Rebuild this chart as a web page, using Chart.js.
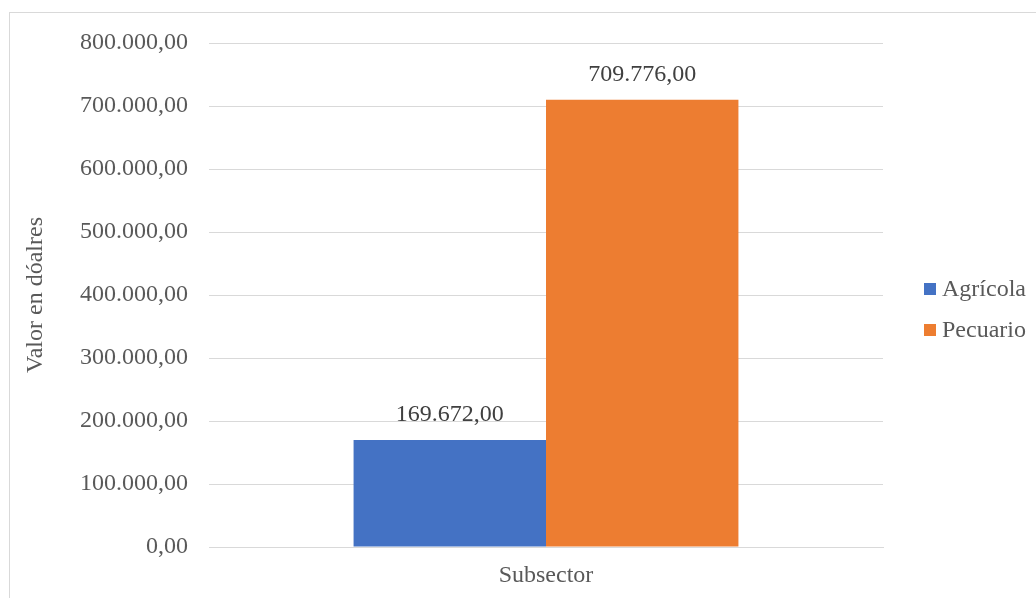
<!DOCTYPE html>
<html>
<head>
  <meta charset="UTF-8">
  <title>Valor por subsector</title>
  <script src="https://cdn.jsdelivr.net/npm/chart.js"></script>
  <style>
    html, body { margin: 0; padding: 0; overflow: hidden; background: #fff; }
    #frame { position: absolute; left: 9px; top: 12px; width: 1100px; height: 700px; border: 1px solid #d9d9d9; }
    #chart { position: absolute; left: 0; top: 0; }
  </style>
</head>
<body>
  <div id="frame"></div>
  <canvas id="chart" width="1036" height="598"></canvas>
  <script>
    const categories = ['Subsector'];
    const seriesNames = ['Agrícola', 'Pecuario'];
    const agricola = [169672];
    const pecuario = [709776];
    const colors = ['#4472C4', '#ED7D31'];
    const yTicks = [0, 100000, 200000, 300000, 400000, 500000, 600000, 700000, 800000];

    const FONT = '"Liberation Serif", "Times New Roman", serif';

    function fmt(v) {
      const parts = Number(v).toFixed(2).split('.');
      return parts[0].replace(/\B(?=(\d{3})+(?!\d))/g, '.') + ',' + parts[1];
    }

    // value labels above the bars
    const valueLabels = {
      id: 'valueLabels',
      afterDatasetsDraw(chart) {
        const ctx = chart.ctx;
        ctx.save();
        ctx.font = '24px ' + FONT;
        ctx.fillStyle = '#404040';
        ctx.textAlign = 'center';
        ctx.textBaseline = 'middle';
        chart.data.datasets.forEach((ds, i) => {
          chart.getDatasetMeta(i).data.forEach((bar, j) => {
            ctx.fillText(fmt(ds.data[j]), bar.x, bar.y - 25);
          });
        });
        ctx.restore();
      }
    };

    // legend on the right, like the original
    const sideLegend = {
      id: 'sideLegend',
      afterDraw(chart) {
        const ctx = chart.ctx;
        ctx.save();
        ctx.font = '24px ' + FONT;
        ctx.textBaseline = 'middle';
        const x = 924, y0 = 289, gap = 41;
        chart.data.datasets.forEach((ds, i) => {
          const y = y0 + i * gap;
          ctx.fillStyle = ds.backgroundColor;
          ctx.fillRect(x, y - 6, 12, 12);
          ctx.fillStyle = '#595959';
          ctx.fillText(ds.label, x + 18, y + 1);
        });
        ctx.restore();
      }
    };

    new Chart(document.getElementById('chart').getContext('2d'), {
      type: 'bar',
      data: {
        labels: categories,
        datasets: [
          { label: seriesNames[0], data: agricola, backgroundColor: colors[0] },
          { label: seriesNames[1], data: pecuario, backgroundColor: colors[1] }
        ]
      },
      options: {
        responsive: false,
        animation: false,
        layout: { padding: { left: 17, top: 43, right: 153, bottom: 0 } },
        datasets: { bar: { categoryPercentage: 0.571, barPercentage: 1 } },
        plugins: { legend: { display: false }, tooltip: { enabled: false } },
        scales: {
          x: {
            grid: { display: false, drawTicks: false },
            border: { display: true, color: '#d9d9d9' },
            ticks: { font: { family: FONT, size: 24 }, color: '#595959', padding: 14 },
            afterFit(scale) { scale.height = 51; }
          },
          y: {
            min: 0,
            max: 800000,
            afterBuildTicks(scale) { scale.ticks = yTicks.map(v => ({ value: v })); },
            grid: { color: '#d9d9d9', drawTicks: false },
            border: { display: false },
            ticks: { font: { family: FONT, size: 24 }, color: '#595959', padding: 21, callback: v => fmt(v) },
            title: {
              display: true,
              text: 'Valor en dóalres',
              font: { family: FONT, size: 24 },
              color: '#595959',
              padding: { top: 4, bottom: 0 }
            },
            afterFit(scale) { scale.width = 192; }
          }
        }
      },
      plugins: [valueLabels, sideLegend]
    });
  </script>
</body>
</html>
